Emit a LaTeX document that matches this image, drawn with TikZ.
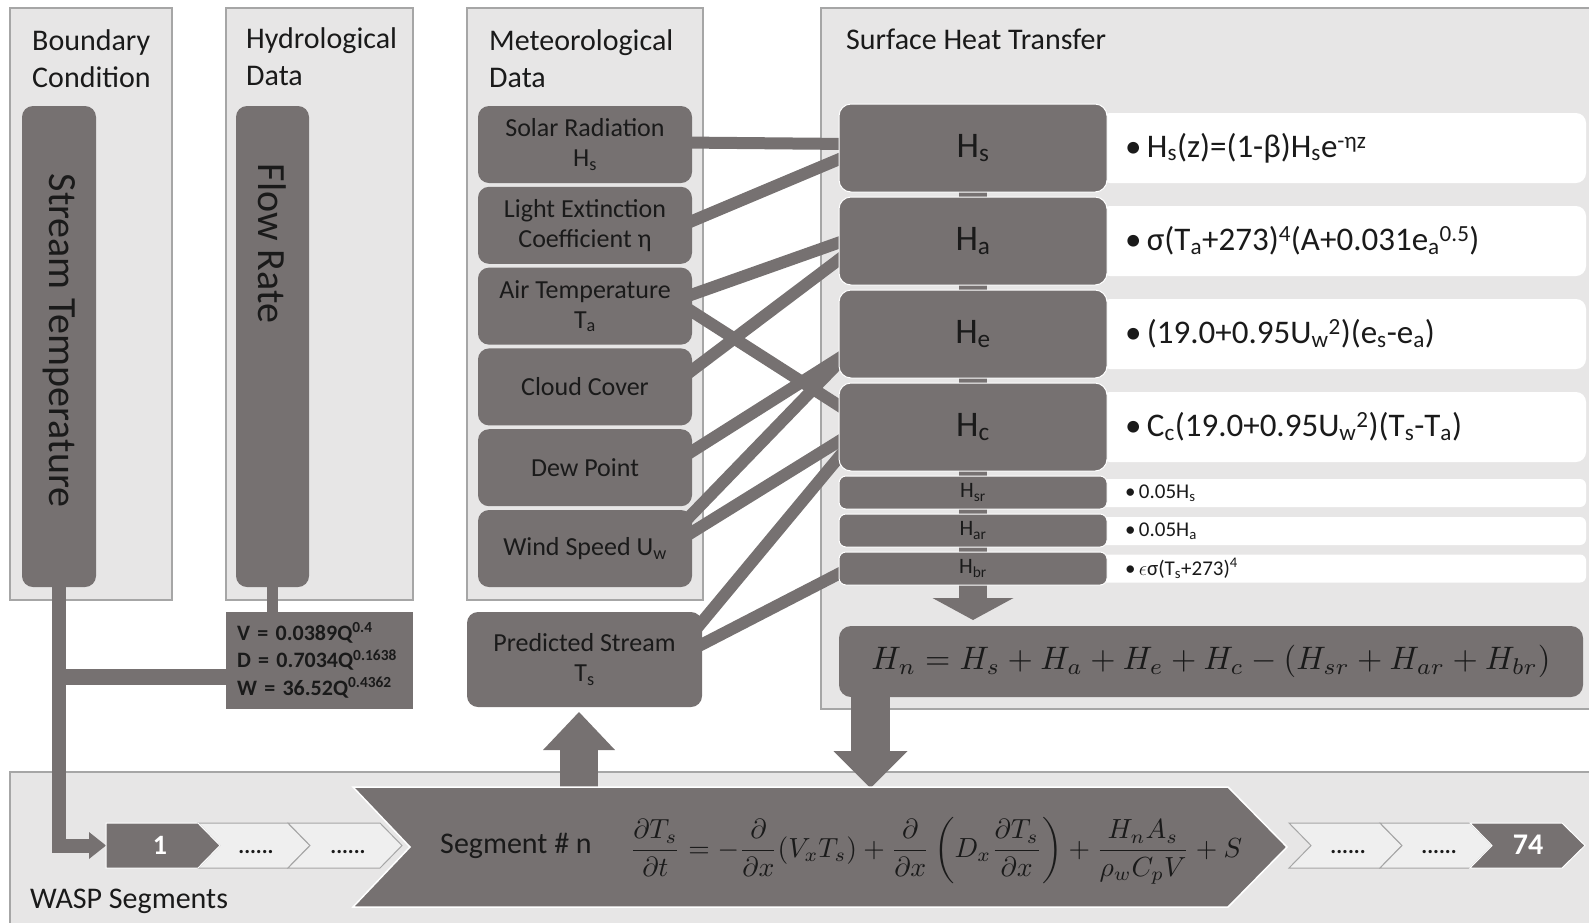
\documentclass[tikz,border=0pt]{standalone}
\usepackage{amsmath}
\usepackage{graphicx}
\usepackage{fontspec}
\setmainfont{Carlito}
\usetikzlibrary{arrows.meta}
\definecolor{dk}{HTML}{767171}
\definecolor{pn}{HTML}{E7E6E6}
\definecolor{pb}{HTML}{A6A6A6}
\definecolor{tx}{HTML}{1A1A1A}
\definecolor{wc}{HTML}{EFEFEF}
\newcommand\sbx[1]{\textsubscript{#1}}
\newcommand\spx[1]{\textsuperscript{#1}}
\pgfdeclarelayer{panels}
\pgfdeclarelayer{lines}
\pgfsetlayers{panels,lines,main}
\begin{document}
\begin{tikzpicture}[x=1pt,y=-1pt,
  panelbox/.style={draw=pb, fill=pn, line width=1.2pt, inner sep=0pt, outer sep=0pt},
  dkbox/.style={fill=dk, rounded corners=11pt, inner sep=0pt, outer sep=0pt, text=tx, align=center},
  metbox/.style={dkbox, minimum width=214pt, minimum height=77pt, font=\fontsize{26}{30}\selectfont},
  heatbox/.style={dkbox, draw=white, line width=1pt, minimum width=268pt, minimum height=88pt, rounded corners=12pt, font=\fontsize{36}{40}\selectfont},
  heatsmall/.style={dkbox, draw=white, line width=1pt, minimum width=268pt, minimum height=33pt, rounded corners=7pt, font=\fontsize{22}{24}\selectfont},
  rowbig/.style={fill=white, rounded corners=10pt, inner sep=0pt, outer sep=0pt, minimum width=486pt, minimum height=70pt, text width=436pt, align=left, text=tx, font=\fontsize{33}{36}\selectfont},
  rowsmall/.style={rowbig, rounded corners=6pt, minimum height=28pt, font=\fontsize{21}{24}\selectfont},
  title/.style={anchor=north west, align=left, inner sep=0pt, text=tx, font=\fontsize{30}{37}\selectfont},
  conn/.style={draw=dk, line width=12pt},
  wchev/.style={fill=wc, draw=pb, line width=1pt},
  dchev/.style={fill=dk, draw=white, line width=1pt},
  dots/.style={inner sep=0pt, text=tx, font=\bfseries\fontsize{22}{24}\selectfont}
]
\useasboundingbox (0,0) rectangle (1589,922);

% ---------- panels ----------
\begin{pgfonlayer}{panels}
\node[panelbox, minimum width=162pt, minimum height=592pt] (pbc) at (91,304) {};
\node[panelbox, minimum width=187pt, minimum height=592pt] (phy) at (319.5,304) {};
\node[panelbox, minimum width=236pt, minimum height=592pt] (pmet) at (585,304) {};
\node[panelbox, minimum width=779pt, minimum height=701pt] (pheat) at (1210.5,358.5) {};
\node[panelbox, minimum width=1590pt, minimum height=163pt] (pwasp) at (805,853.5) {};
\end{pgfonlayer}

\node[title] (tbc) at (32,29) {Boundary\\Condition};
\node[title] (thy) at (246,27) {Hydrological\\Data};
\node[title] (tmet) at (489,29) {Meteorological\\Data};
\node[title] (theat) at (846,29) {Surface Heat Transfer};
\node[title, anchor=base west] (twasp) at (30,908) {WASP Segments};

% ---------- boundary / hydrology ----------
\node[dkbox, minimum width=74pt, minimum height=481pt] (stream) at (59,346.5) {};
\node[rotate=-90, inner sep=0pt, text=tx, font=\fontsize{40}{44}\selectfont] (streamtxt) at ([yshift=6pt]stream.center) {Stream Temperature};
\node[dkbox, minimum width=73pt, minimum height=481pt] (flow) at (272.5,346.5) {};
\node[rotate=-90, inner sep=0pt, text=tx, font=\fontsize{40}{44}\selectfont] (flowtxt) at ([yshift=103pt]flow.center) {Flow Rate};
\node[fill=dk, inner sep=0pt, outer sep=0pt, minimum width=187pt, minimum height=97pt, text width=165pt, align=left, text=tx, font=\bfseries\fontsize{22}{27.5}\selectfont] (hydf) at (319.5,660.5)
  {V = 0.0389Q\spx{0.4}\\D = 0.7034Q\spx{0.1638}\\W = 36.52Q\spx{0.4362}};

% ---------- meteorological ----------
\node[metbox] (solar) at (585,144.5) {Solar Radiation\\H\sbx{s}};
\node[metbox] (light) at (585,225.3) {Light Extinction\\Coefficient η};
\node[metbox] (air) at (585,306.1) {Air Temperature\\T\sbx{a}};
\node[metbox] (cloud) at (585,386.9) {Cloud Cover};
\node[metbox] (dew) at (585,467.7) {Dew Point};
\node[metbox] (wind) at (585,548.5) {Wind Speed U\sbx{w}};
\node[dkbox, minimum width=235pt, minimum height=95pt, font=\fontsize{26}{30}\selectfont] (pred) at (584.5,659.5) {Predicted Stream\\T\sbx{s}};

% ---------- surface heat transfer ----------
\node[rowbig] (fhs) at (1343,148) {\textbullet\,H\sbx{s}(z)=(1-β)H\sbx{s}e\spx{-ηz}};
\node[rowbig] (fha) at (1343,241) {\textbullet\,σ(T\sbx{a}+273)\spx{4}(A+0.031e\sbx{a}\spx{0.5})};
\node[rowbig] (fhe) at (1343,334) {\textbullet\,(19.0+0.95U\sbx{w}\spx{2})(e\sbx{s}-e\sbx{a})};
\node[rowbig] (fhc) at (1343,427) {\textbullet\,C\sbx{c}(19.0+0.95U\sbx{w}\spx{2})(T\sbx{s}-T\sbx{a})};
\node[rowsmall] (fhsr) at (1343,493) {\textbullet\,0.05H\sbx{s}};
\node[rowsmall] (fhar) at (1343,531) {\textbullet\,0.05H\sbx{a}};
\node[rowsmall] (fhbr) at (1343,568.5) {\textbullet\,$\epsilon$σ(T\sbx{s}+273)\spx{4}};

\node[heatbox] (hs) at (973,148) {H\sbx{s}};
\node[heatbox] (ha) at (973,241) {H\sbx{a}};
\node[heatbox] (he) at (973,334) {H\sbx{e}};
\node[heatbox] (hc) at (973,427) {H\sbx{c}};
\node[heatsmall] (hsr) at (973,492.5) {H\sbx{sr}};
\node[heatsmall] (har) at (973,530.5) {H\sbx{ar}};
\node[heatsmall] (hbr) at (973,568.5) {H\sbx{br}};

\node[dkbox, rounded corners=12pt, minimum width=744pt, minimum height=71pt] (hn) at (1211,661.5)
  {\resizebox{679pt}{!}{$H_n=H_s+H_a+H_e+H_c-(H_{sr}+H_{ar}+H_{br})$}};

% ---------- WASP segments ----------
\path[wchev] (198,823) -- (288,823) -- (310,845.5) -- (288,868) -- (198,868) -- (220,845.5) -- cycle;
\path[wchev] (288,823) -- (380,823) -- (402,845.5) -- (380,868) -- (288,868) -- (310,845.5) -- cycle;
\path[dchev] (106,823) -- (198,823) -- (220,845.5) -- (198,868) -- (106,868) -- cycle;
\path[wchev] (1289,823) -- (1380,823) -- (1402,845.5) -- (1380,868) -- (1289,868) -- (1311,845.5) -- cycle;
\path[wchev] (1380,823) -- (1470,823) -- (1492,845.5) -- (1470,868) -- (1380,868) -- (1402,845.5) -- cycle;
\path[dchev] (1470,823) -- (1562,823) -- (1585,845.5) -- (1562,868) -- (1470,868) -- (1492,845.5) -- cycle;
\path[dchev, line width=1.5pt] (353,787) -- (1228,787) -- (1287,847) -- (1228,907) -- (353,907) -- (410,847) -- cycle;
\coordinate (s1w) at (106,845.5);
\coordinate (upb) at (579,800);
\coordinate (dnb) at (870.5,788);
\coordinate (jn) at (59,676.5);

\node[text=white, inner sep=0pt, font=\bfseries\fontsize{28}{30}\selectfont] (n1) at (160,845) {1};
\node[text=white, inner sep=0pt, font=\bfseries\fontsize{30}{32}\selectfont] (n74) at (1528,845) {74};
\node[dots] (d1) at (256,852) {......};
\node[dots] (d2) at (348,852) {......};
\node[dots] (d3) at (1348,852) {......};
\node[dots] (d4) at (1439,852) {......};
\node[inner sep=0pt, text=tx, font=\fontsize{30}{34}\selectfont] (segtxt) at (516,846) {Segment \# n};
\node[inner sep=0pt, text=tx] (pde) at (936,851)
  {\resizebox{612pt}{!}{$\displaystyle \frac{\partial T_s}{\partial t}=-\frac{\partial}{\partial x}(V_xT_s)+\frac{\partial}{\partial x}\left(D_x\frac{\partial T_s}{\partial x}\right)+\frac{H_nA_s}{\rho_wC_pV}+S$}};

% ---------- connectors ----------
\begin{pgfonlayer}{lines}
\draw[conn] ([xshift=-10pt,yshift=2pt]solar.east) -- ([xshift=10pt,yshift=4pt]hs.west);
\draw[conn] ([xshift=-10pt]light.east) -- ([xshift=10pt,yshift=-7pt]hs.west);
\draw[conn] ([xshift=-10pt,yshift=8pt]air.east) -- ([xshift=10pt,yshift=2pt]ha.west);
\draw[conn] ([xshift=-10pt,yshift=1pt]air.east) -- ([xshift=10pt,yshift=15pt]hc.west);
\draw[conn] ([xshift=-10pt,yshift=9pt]cloud.east) -- ([xshift=10pt,yshift=-11pt]ha.west);
\draw[conn] ([xshift=-10pt,yshift=10pt]dew.east) -- ([xshift=10pt,yshift=-18pt]he.west);
\draw[conn] ([xshift=-10pt,yshift=24pt]wind.east) -- ([xshift=10pt,yshift=-18pt]he.west);
\draw[conn] ([xshift=-10pt,yshift=10pt]wind.east) -- ([xshift=10pt,yshift=-8pt]hc.west);
\draw[conn] ([xshift=-10pt,yshift=-22pt]pred.north east) -- ([xshift=10pt,yshift=-18pt]hc.west);
\draw[conn] ([xshift=-10pt,yshift=10pt]pred.east) -- ([xshift=10pt]hbr.west);

\draw[draw=dk, line width=28pt, -{Triangle[width=81pt,length=22pt,line width=0pt]}, shorten >=6pt] (hs.center) -- (hs.center |- hn.north);
\draw[draw=dk, line width=39pt, -{Triangle[width=74pt,length=37pt,line width=0pt]}] (hn.south -| dnb) -- (dnb);
\draw[draw=dk, line width=38pt, -{Triangle[width=72pt,length=38pt,line width=0pt]}, shorten >=5pt] (upb) -- (upb |- pred.south);

\draw[draw=dk, line width=11pt] (flow.south) -- (flow.south |- hydf.north);
\draw[draw=dk, line width=14pt, line join=miter, -{Triangle[width=27pt,length=17pt,line width=0pt]}] (stream.south) -- (stream.south |- s1w) -- (s1w);
\draw[draw=dk, line width=16pt] (hydf.west |- jn) -- (jn);
\end{pgfonlayer}
\end{tikzpicture}
\end{document}
